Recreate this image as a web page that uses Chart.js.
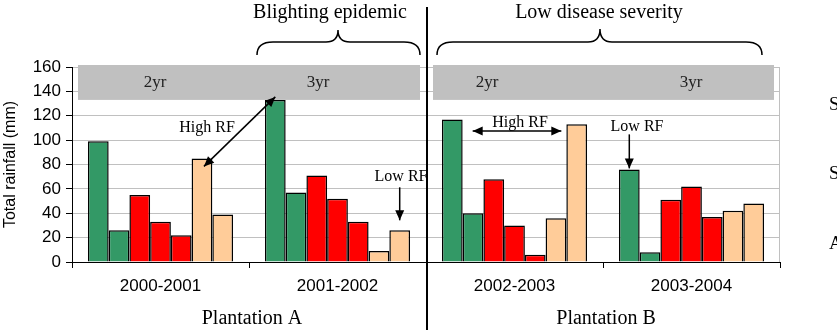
<!DOCTYPE html>
<html>
<head>
<meta charset="utf-8">
<script src="https://cdn.jsdelivr.net/npm/chart.js"></script>
<style>
  html, body { margin: 0; padding: 0; background: #fff; }
  #wrap { width: 837px; height: 336px; }
</style>
</head>
<body>
<div id="wrap"><canvas id="myChart" width="837" height="336"></canvas></div>
<script>
// rainfall per season, one array per bar of the group
const seasons = ['2000-2001', '2001-2002', '2002-2003', '2003-2004'];
const green1 = [99, 133, 117, 76];
const green2 = [26, 57, 40, 8];
const red1 = [55, 71, 68, 51];
const red2 = [33, 52, 30, 62];
const red3 = [22, 33, 6, 37];
const peach1 = [85, 9, 36, 42];
const peach2 = [39, 26, 113, 48];
const yTicks = [0, 20, 40, 60, 80, 100, 120, 140, 160];

const GREEN = '#339966', RED = '#ff0000', PEACH = '#ffcc99';
const serif = '"Liberation Serif", "Times New Roman", serif';
const sans = '"Liberation Sans", Arial, sans-serif';

function arrowHead(ctx, x1, y1, x2, y2) {
    const a = Math.atan2(y2 - y1, x2 - x1);
    const len = 10, w = 4.5;
    ctx.beginPath();
    ctx.moveTo(x2, y2);
    ctx.lineTo(x2 - len * Math.cos(a) + w * Math.sin(a), y2 - len * Math.sin(a) - w * Math.cos(a));
    ctx.lineTo(x2 - len * Math.cos(a) - w * Math.sin(a), y2 - len * Math.sin(a) + w * Math.cos(a));
    ctx.closePath();
    ctx.fill();
}

function arrow(ctx, x1, y1, x2, y2, both) {
    ctx.beginPath();
    ctx.moveTo(x1, y1);
    ctx.lineTo(x2, y2);
    ctx.stroke();
    arrowHead(ctx, x1, y1, x2, y2);
    if (both) arrowHead(ctx, x2, y2, x1, y1);
}

function brace(ctx, x0, x1, xm, yEnd, yMid, yTop) {
    ctx.beginPath();
    ctx.moveTo(x0, yEnd);
    ctx.quadraticCurveTo(x0, yMid, x0 + 16, yMid);
    ctx.lineTo(xm - 12, yMid);
    ctx.quadraticCurveTo(xm, yMid, xm, yTop);
    ctx.quadraticCurveTo(xm, yMid, xm + 12, yMid);
    ctx.lineTo(x1 - 16, yMid);
    ctx.quadraticCurveTo(x1, yMid, x1, yEnd);
    ctx.stroke();
}

const decorations = {
    id: 'decorations',
    afterDatasetsDraw(chart) {
        const ctx = chart.ctx;
        const area = chart.chartArea;
        const x = chart.scales.x, y = chart.scales.y;
        const bar = (ds, i) => chart.getDatasetMeta(ds).data[i];
        const split = (x.getPixelForValue(1) + x.getPixelForValue(2)) / 2 + 1;
        ctx.save();

        // right border of the plot
        ctx.strokeStyle = '#c0c0c0';
        ctx.lineWidth = 1;
        ctx.beginPath();
        ctx.moveTo(area.right - 0.5, area.top);
        ctx.lineTo(area.right - 0.5, area.bottom);
        ctx.stroke();

        // rotation bands
        const bandTop = area.top - 2, bandBottom = y.getPixelForValue(133);
        ctx.fillStyle = '#c0c0c0';
        ctx.fillRect(area.left + 6, bandTop, split - 7 - (area.left + 6), bandBottom - bandTop);
        ctx.fillRect(split + 6, bandTop, area.right - 6 - (split + 6), bandBottom - bandTop);

        ctx.fillStyle = '#222';
        ctx.font = '17px ' + serif;
        ctx.textAlign = 'center';
        ctx.textBaseline = 'middle';
        ctx.fillText('2yr', 155, 83);
        ctx.fillText('3yr', 318, 83);
        ctx.fillText('2yr', 487, 83);
        ctx.fillText('3yr', 691, 83);

        // annotations
        ctx.fillStyle = '#000';
        ctx.strokeStyle = '#000';
        ctx.lineWidth = 1.5;
        ctx.font = '16px ' + serif;
        ctx.fillText('High RF', 207, 128);
        const p1 = bar(5, 0), g2 = bar(0, 1);
        arrow(ctx, g2.x, g2.y - 3, p1.x + 2, p1.y + 8, true);

        ctx.fillText('Low RF', 401, 177);
        const lp = bar(6, 1);
        arrow(ctx, lp.x, lp.y - 43, lp.x, lp.y - 10, false);

        const g3 = bar(0, 2), pp = bar(6, 2);
        arrow(ctx, g3.x + g3.width / 2 + 10, 131, pp.x - pp.width / 2 - 5, 131, true);
        ctx.fillText('High RF', 520, 123);

        ctx.fillText('Low RF', 637, 127);
        const g4 = bar(0, 3);
        arrow(ctx, g4.x, g4.y - 35, g4.x, g4.y - 1, false);

        // period braces and captions
        ctx.lineWidth = 1.5;
        brace(ctx, 257, 420, 338, 55, 42, 30);
        brace(ctx, 437, 762, 600, 55, 42, 29);
        ctx.font = '20px ' + serif;
        ctx.fillText('Blighting epidemic', 330, 13);
        ctx.fillText('Low disease severity', 599, 13);
        ctx.fillText('Plantation A', 252, 319);
        ctx.fillText('Plantation B', 606, 319);

        // divider between plantations
        ctx.lineWidth = 2;
        ctx.beginPath();
        ctx.moveTo(split, 7);
        ctx.lineTo(split, 330);
        ctx.stroke();

        // clipped legend labels
        ctx.textAlign = 'left';
        ctx.font = '19px ' + serif;
        ctx.fillText('S', 829, 105);
        ctx.fillText('S', 829, 174);
        ctx.fillText('A', 829, 244);
        ctx.restore();
    }
};

const ctx = document.getElementById('myChart');
const makeSet = (label, data, color) => ({
    label: label,
    data: data,
    backgroundColor: color,
    borderColor: '#000',
    borderWidth: 1.5,
    categoryPercentage: 0.82,
    barPercentage: 1.0
});

const myChart = new Chart(ctx, {
    type: 'bar',
    data: {
        labels: seasons,
        datasets: [
            makeSet('green 1', green1, GREEN),
            makeSet('green 2', green2, GREEN),
            makeSet('red 1', red1, RED),
            makeSet('red 2', red2, RED),
            makeSet('red 3', red3, RED),
            makeSet('peach 1', peach1, PEACH),
            makeSet('peach 2', peach2, PEACH)
        ]
    },
    options: {
        responsive: false,
        animation: false,
        layout: { padding: { left: 0, right: 57, top: 67, bottom: 0 } },
        plugins: {
            legend: { display: false },
            tooltip: { enabled: false }
        },
        scales: {
            x: {
                afterFit: (scale) => { scale.height = 74; },
                grid: { drawOnChartArea: false, tickLength: 6, tickColor: '#000' },
                border: { color: '#000', width: 1 },
                ticks: { color: '#000', padding: 8, font: { family: sans, size: 17 } }
            },
            y: {
                min: 0,
                max: 160,
                afterFit: (scale) => { scale.width = 72; },
                afterBuildTicks: (scale) => { scale.ticks = yTicks.map(v => ({ value: v })); },
                grid: { color: '#c0c0c0', tickLength: 6, tickColor: '#000' },
                border: { color: '#000', width: 1 },
                ticks: { color: '#000', padding: 5, font: { family: sans, size: 17 } },
                title: {
                    display: true,
                    text: 'Total rainfall (mm)',
                    color: '#000',
                    font: { family: sans, size: 16 },
                    padding: { top: 1, bottom: 0 }
                }
            }
        }
    },
    plugins: [decorations]
});
</script>
</body>
</html>
